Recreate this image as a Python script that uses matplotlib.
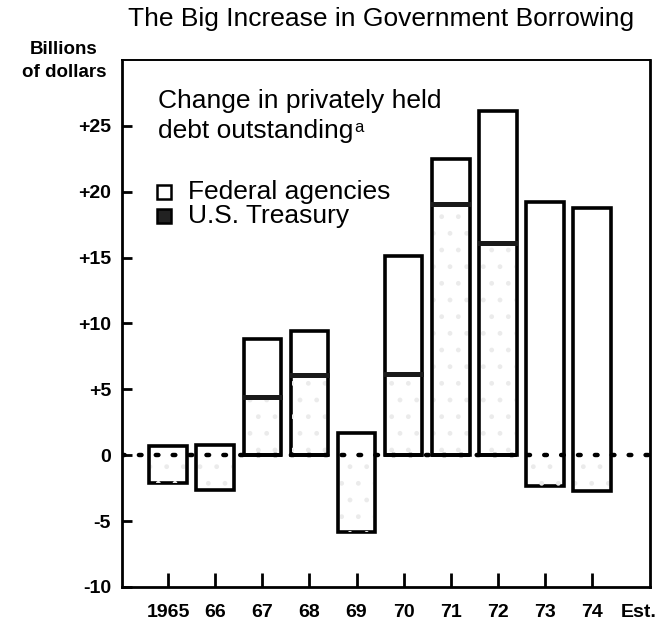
import matplotlib.pyplot as plt
from matplotlib.transforms import blended_transform_factory

plt.rcParams['font.family'] = ['Liberation Sans', 'DejaVu Sans']

# values, billions of dollars
years = ['1965', '66', '67', '68', '69', '70', '71', '72', '73', '74']
treasury = [-2.1, -2.65, 4.4, 6.1, -5.8, 6.2, 19.1, 16.1, -2.3, -2.7]
agencies = [0.7, 0.75, 4.4, 3.3, 1.7, 8.9, 3.4, 10.0, 19.2, 18.8]
y_ticks = [25, 20, 15, 10, 5, 0, -5, -10]
y_labels = ['+25', '+20', '+15', '+10', '+5', '0', '-5', '-10']

fig = plt.figure(figsize=(6.69, 6.21), dpi=100)
ax = fig.add_axes([0.1824, 0.0548, 0.789, 0.8486])

x = list(range(len(years)))
width = 0.8

for i in x:
    t = treasury[i]
    a = agencies[i]
    if t >= 0:
        bottom, top = 0, t + a
    else:
        bottom, top = t, a
    # outer bar
    ax.bar(i, top - bottom, bottom=bottom, width=width, color='white',
           edgecolor='black', linewidth=2.6, zorder=2)
    # treasury stipple (very faint in the print)
    ax.bar(i, t, width=width - 0.08, color='none', hatch='.',
           edgecolor='#ebebeb', linewidth=0, zorder=2)
    if t > 0:
        ax.plot([i - width / 2 + 0.03, i + width / 2 - 0.03], [t, t],
                color='#1a1a1a', linewidth=3.6, zorder=3)
        ax.plot([i - width / 2 + 0.03, i + width / 2 - 0.03], [0, 0],
                color='black', linewidth=2.8, zorder=3)

# dotted zero line
ax.plot([-0.98, 10.23], [0, 0], color='black', linestyle=(0, (0.6, 3.2)),
        linewidth=3.2, dash_capstyle='round', zorder=4)

ax.set_xlim(-0.98, 10.23)
ax.set_ylim(-10, 30)

for s in ['left', 'bottom', 'right']:
    ax.spines[s].set_linewidth(2.0)
ax.spines['top'].set_linewidth(1.4)

ax.set_yticks(y_ticks)
ax.set_yticklabels(y_labels, fontsize=14, fontweight='bold')
ax.set_xticks(x)
ax.set_xticklabels(years, fontsize=14, fontweight='bold')
ax.tick_params(axis='y', direction='in', length=7, width=2, pad=8)
ax.tick_params(axis='x', direction='in', length=10, width=2, pad=12)

trans = blended_transform_factory(ax.transData, ax.transAxes)
ax.text(9.62, -0.0475, 'Est.', transform=trans, fontsize=14,
        fontweight='bold', va='center', ha='left')

fig.text(0.5695, 0.9694, 'The Big Increase in Government Borrowing',
         fontsize=19, ha='center', va='center')
fig.text(0.0957, 0.92, 'Billions', fontsize=13.5, fontweight='bold',
         ha='center', va='center')
fig.text(0.0957, 0.884, 'of dollars', fontsize=13.5, fontweight='bold',
         ha='center', va='center')

ax.text(0.068, 0.9222, 'Change in privately held', transform=ax.transAxes,
        fontsize=19, va='center', ha='left')
debt = ax.text(0.068, 0.8652, 'debt outstanding', transform=ax.transAxes,
               fontsize=19, va='center', ha='left')
ax.annotate('a', xy=(1, 0.95), xycoords=debt, xytext=(1, 0),
            textcoords='offset points', fontsize=12, ha='left', va='top')

# legend drawn by hand
legend_names = ['Federal agencies', 'U.S. Treasury']
legend_faces = ['white', '#222222']
legend_y = [0.750, 0.704]
for name, face, ly in zip(legend_names, legend_faces, legend_y):
    ax.plot([0.0795], [ly], marker='s', markersize=10, markerfacecolor=face,
            markeredgecolor='black', markeredgewidth=1.8,
            transform=ax.transAxes, zorder=5)
    ax.text(0.125, ly, name, transform=ax.transAxes, fontsize=19,
            va='center', ha='left')

fig.savefig('out.png', dpi=100)
